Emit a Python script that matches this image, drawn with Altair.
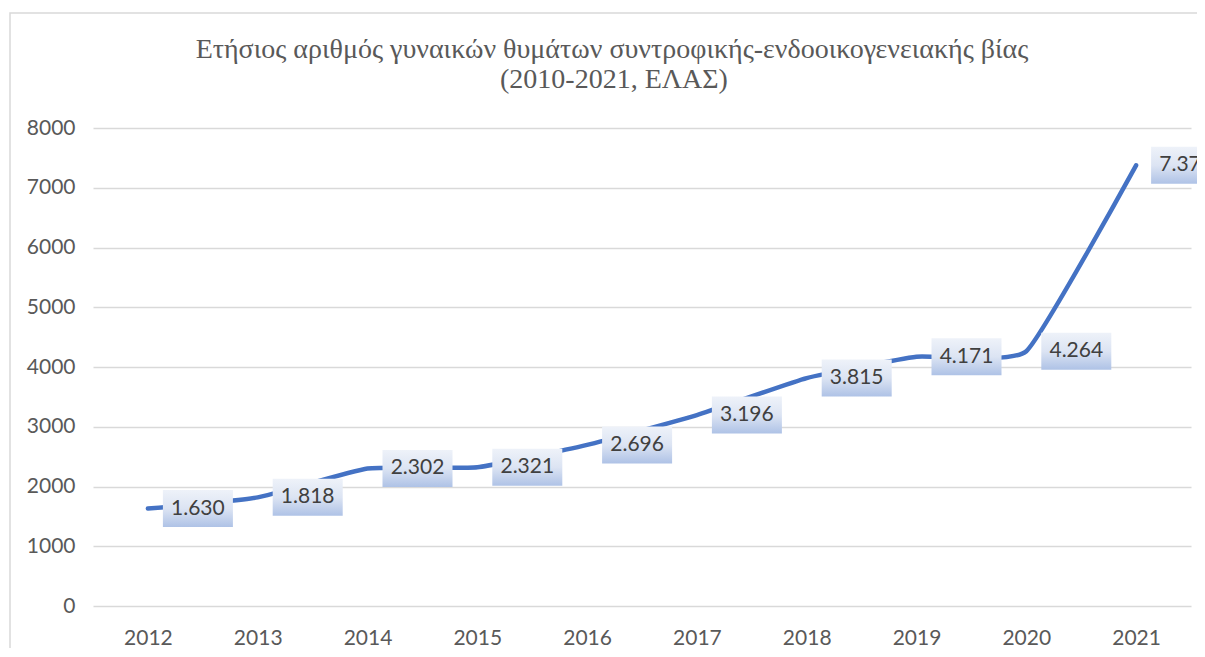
import altair as alt
import pandas as pd

years = ["2012", "2013", "2014", "2015", "2016", "2017", "2018", "2019", "2020", "2021"]
values = [1630, 1818, 2302, 2321, 2696, 3196, 3815, 4171, 4264, 7375]
labels = ["1.630", "1.818", "2.302", "2.321", "2.696", "3.196", "3.815", "4.171", "4.264", "7.375"]
y_ticks = [0, 1000, 2000, 3000, 4000, 5000, 6000, 7000, 8000]
title_lines = ["Ετήσιος αριθμός γυναικών θυμάτων συντροφικής-ενδοοικογενειακής βίας",
               "(2010-2021, ΕΛΑΣ)"]

df = pd.DataFrame({"year": years, "value": values, "label": labels})
one = pd.DataFrame({"a": [0]})

W, H = 1098, 478
FONT = "Lato"
FS = 21

x = alt.X("year:O", sort=years,
          scale=alt.Scale(type="point", padding=0.5),
          axis=alt.Axis(title=None, labelAngle=0, ticks=False, domain=False,
                        labelPadding=38, labelBaseline="alphabetic",
                        labelFontSize=FS, labelColor="#595959",
                        labelFont=FONT, grid=False))
y = alt.Y("value:Q", scale=alt.Scale(domain=[0, 8000], nice=False, zero=True),
          axis=alt.Axis(title=None, values=y_ticks, format="d", grid=True,
                        gridColor="#D9D9D9", gridWidth=1.5, ticks=False, domain=False,
                        labelPadding=18, labelFontSize=FS, labelColor="#595959",
                        labelFont=FONT))

border = alt.Chart(one).mark_rect(
    fill="transparent", stroke="#D9D9D9", strokeWidth=1.5
).encode(x=alt.value(-83), x2=alt.value(1400), y=alt.value(-115), y2=alt.value(800))

title1 = alt.Chart(one).mark_text(
    font="Liberation Serif", fontSize=28, color="#595959", align="center",
    baseline="alphabetic"
).encode(x=alt.value(519), y=alt.value(-70), text=alt.value(title_lines[0]))

title2 = alt.Chart(one).mark_text(
    font="Liberation Serif", fontSize=28, color="#595959", align="center",
    baseline="alphabetic"
).encode(x=alt.value(521), y=alt.value(-40), text=alt.value(title_lines[1]))

line = alt.Chart(df).mark_line(
    color="#4472C4", strokeWidth=4.5, interpolate="cardinal", tension=0.6,
    strokeCap="round", strokeJoin="round"
).encode(x=x, y=y)

grad = alt.LinearGradient(
    gradient="linear",
    stops=[alt.GradientStop(color="#EEF2F9", offset=0),
           alt.GradientStop(color="#DCE4F3", offset=0.5),
           alt.GradientStop(color="#AEC2E6", offset=1)],
    x1=0, x2=0, y1=0, y2=1)

boxes = alt.Chart(df).mark_rect(
    width=70, height=37, xOffset=50, fill=grad
).encode(x=x, y=y)

text = alt.Chart(df).mark_text(
    xOffset=50, fontSize=FS, font=FONT, color="#404040"
).encode(x=x, y=y, text="label:N")

chart = alt.layer(border, title1, title2, line, boxes, text).properties(
    width=W, height=H,
    padding={"left": 85, "top": 120, "right": 6, "bottom": 42},
    autosize=alt.AutoSizeParams(type="none"),
).configure_view(strokeWidth=0)

chart.save("out.html", embed_options={"renderer": "svg", "actions": False})
